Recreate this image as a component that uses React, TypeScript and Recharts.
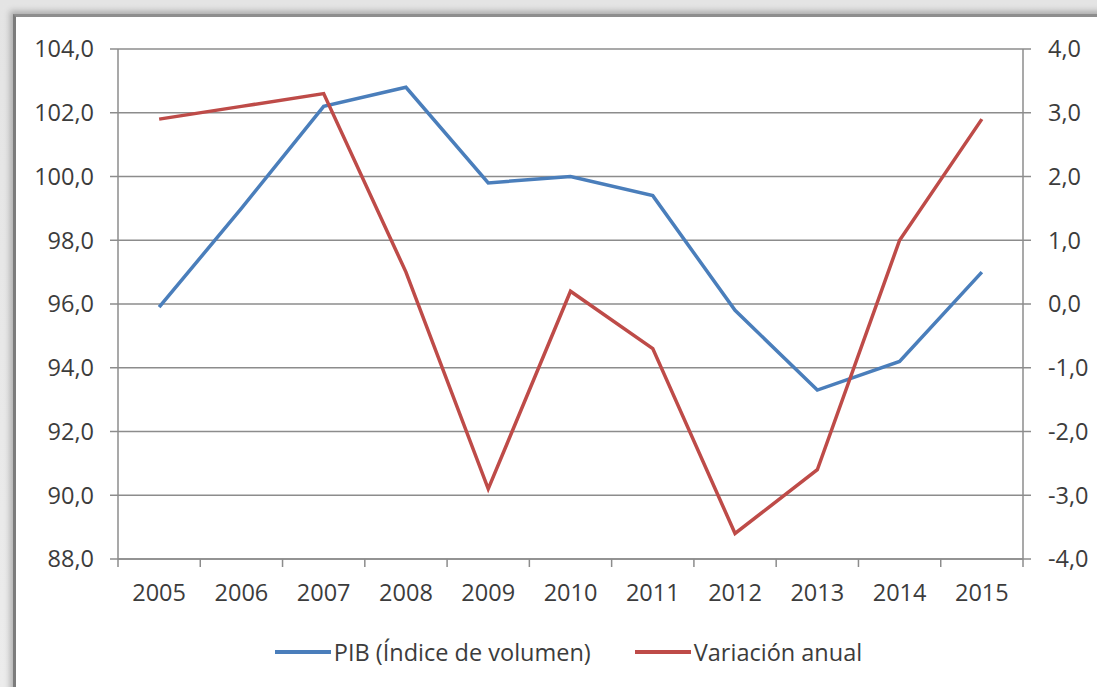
import React from 'react';
import { LineChart, Line, XAxis, YAxis, CartesianGrid, Legend } from 'recharts';

const years = ['2005', '2006', '2007', '2008', '2009', '2010', '2011', '2012', '2013', '2014', '2015'];
const pib = [95.9, 99.0, 102.2, 102.8, 99.8, 100.0, 99.4, 95.8, 93.3, 94.2, 97.0];
const variacion = [2.9, 3.1, 3.3, 0.5, -2.9, 0.2, -0.7, -3.6, -2.6, 1.0, 2.9];
const leftTicks = [88, 90, 92, 94, 96, 98, 100, 102, 104];
const rightTicks = [-4, -3, -2, -1, 0, 1, 2, 3, 4];
const seriesNames = ['PIB (Índice de volumen)', 'Variación anual'];

const data = years.map((y, i) => ({ year: y, pib: pib[i], variacion: variacion[i] }));

const FONT = '"Open Sans", "Noto Sans", sans-serif';
const TEXT = '#3c3c3c';
const GRID = '#8c8c8c';
const BLUE = '#4A7EBB';
const RED = '#BE4B48';
const TICK_SIZE = 8;
const X_TICK_MARGIN = 17;
const TICK_FONT = 23.5;

const fmt = (v: number) => v.toFixed(1).replace('.', ',');

const XTick = (props: any) => {
  const { x, y, payload, index, visibleTicksCount } = props;
  const half = payload && typeof payload.offset === 'number' ? payload.offset : 0;
  const axisY = y - TICK_SIZE - X_TICK_MARGIN;
  const isLast = index === visibleTicksCount - 1;
  return (
    <g>
      <line x1={x - half} x2={x - half} y1={axisY} y2={axisY + TICK_SIZE} stroke={GRID} strokeWidth={1.5} />
      {isLast && (
        <line x1={x + half} x2={x + half} y1={axisY} y2={axisY + TICK_SIZE} stroke={GRID} strokeWidth={1.5} />
      )}
      <text x={x} y={y} dy="0.71em" textAnchor="middle" fill={TEXT} fontSize={TICK_FONT} fontFamily={FONT}>
        {payload.value}
      </text>
    </g>
  );
};

const renderLegend = (props: any) => {
  const { payload } = props;
  return (
    <div style={{ display: 'flex', justifyContent: 'center', alignItems: 'center', height: 34, fontFamily: FONT, fontSize: 23.5, color: TEXT, paddingLeft: 6 }}>
      {(payload || []).map((entry: any, i: number) => (
        <div key={i} style={{ display: 'flex', alignItems: 'center', marginLeft: i === 0 ? 0 : 44 }}>
          <svg width={56} height={10} style={{ display: 'block' }}>
            <line x1={0} x2={56} y1={5} y2={5} stroke={entry.color} strokeWidth={4} />
          </svg>
          <span style={{ marginLeft: 3 }}>{entry.value}</span>
        </div>
      ))}
    </div>
  );
};

export default function App() {
  return (
    <div style={{ position: 'absolute', left: 0, top: 0, width: 1097, height: 687, overflow: 'hidden', background: 'linear-gradient(180deg, #e4e4e4 0%, #ececec 100%)' }}>
      <div
        style={{
          position: 'absolute',
          left: 13,
          top: 14,
          right: -10,
          bottom: -10,
          background: '#ffffff',
          borderTop: '3px solid #8e8e8e',
          borderLeft: '3px solid #7c7c7c',
          boxShadow: '-3px -3px 6px rgba(0,0,0,0.25)',
        }}
      />
      <div style={{ position: 'absolute', left: 0, top: 0 }}>
        <LineChart width={1097} height={687} data={data} margin={{ top: 49, right: 4, left: 38, bottom: 18 }}>
          <CartesianGrid vertical={false} stroke={GRID} strokeWidth={1.5} yAxisId="left" />
          <XAxis
            dataKey="year"
            type="category"
            scale="band"
            height={76}
            axisLine={{ stroke: GRID, strokeWidth: 1.5 }}
            tickLine={false}
            tickSize={TICK_SIZE}
            tickMargin={X_TICK_MARGIN}
            tick={<XTick />}
            interval={0}
          />
          <YAxis
            yAxisId="left"
            orientation="left"
            domain={[88, 104]}
            ticks={leftTicks}
            interval={0}
            width={80}
            tickFormatter={fmt}
            axisLine={{ stroke: GRID, strokeWidth: 1.5 }}
            tickLine={{ stroke: GRID, strokeWidth: 1.5 }}
            tickSize={TICK_SIZE}
            tickMargin={16}
            tick={{ fill: TEXT, fontSize: TICK_FONT, fontFamily: FONT }}
          />
          <YAxis
            yAxisId="right"
            orientation="right"
            domain={[-4, 4]}
            ticks={rightTicks}
            interval={0}
            width={70}
            tickFormatter={fmt}
            axisLine={{ stroke: GRID, strokeWidth: 1.5 }}
            tickLine={{ stroke: GRID, strokeWidth: 1.5 }}
            tickSize={TICK_SIZE}
            tickMargin={17}
            tick={{ fill: TEXT, fontSize: TICK_FONT, fontFamily: FONT, textAnchor: 'start' }}
          />
          <Legend verticalAlign="bottom" content={renderLegend} />
          <Line
            yAxisId="left"
            type="linear"
            dataKey="pib"
            name={seriesNames[0]}
            stroke={BLUE}
            strokeWidth={3.5}
            dot={false}
            activeDot={false}
            isAnimationActive={false}
          />
          <Line
            yAxisId="right"
            type="linear"
            dataKey="variacion"
            name={seriesNames[1]}
            stroke={RED}
            strokeWidth={3.5}
            dot={false}
            activeDot={false}
            isAnimationActive={false}
          />
        </LineChart>
      </div>
    </div>
  );
}
